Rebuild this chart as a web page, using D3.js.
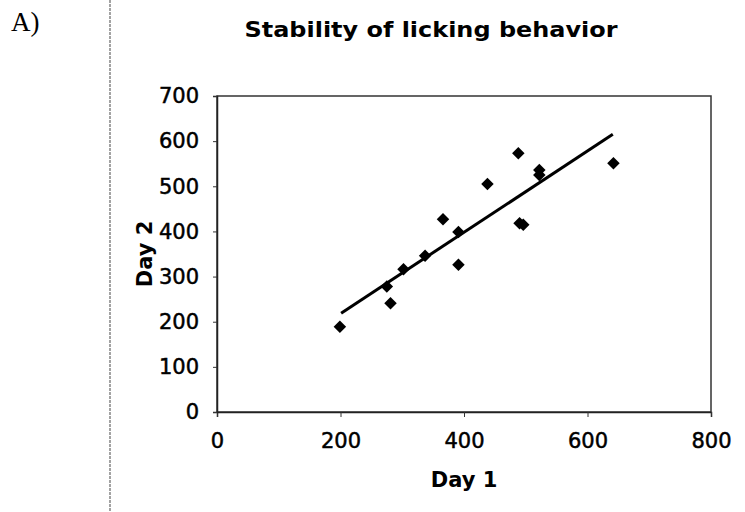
<!DOCTYPE html>
<html>
<head>
<meta charset="utf-8">
<script src="https://cdn.jsdelivr.net/npm/d3@7"></script>
<style>
  body { margin: 0; background: #fff; }
  text { font-family: "DejaVu Sans", Verdana, sans-serif; }
</style>
</head>
<body>
<div id="chart"></div>
<script>
'use strict'

// values
const day1 = [199, 275, 281, 302, 337, 366, 391, 391, 438, 488, 490, 496, 522, 522, 642]
const day2 = [189, 278, 241, 316, 346, 427, 399, 326, 505, 573, 418, 415, 536, 525, 551]
// trend line end points
const trendX = [201, 641]
const trendY = [219, 615]
const xTicks = [0, 200, 400, 600, 800]
const yTicks = [0, 100, 200, 300, 400, 500, 600, 700]

const width = 745
const height = 512
const margin = { top: 96, right: 34, bottom: 100, left: 217 }

const svg = d3.select('#chart')
  .append('svg')
    .attr('width', width)
    .attr('height', height)

// left page divider
svg.append('line')
  .attr('x1', 110).attr('x2', 110)
  .attr('y1', 0).attr('y2', height)
  .attr('stroke', '#666')
  .attr('stroke-width', 1.2)
  .attr('stroke-dasharray', '3,1')

svg.append('text')
  .attr('x', 11).attr('y', 31)
  .style('font-family', '"Liberation Serif", "Times New Roman", serif')
  .style('font-size', '27px')
  .text('A)')

const x = d3.scaleLinear()
  .domain([0, 800])
  .range([margin.left, width - margin.right])

const y = d3.scaleLinear()
  .domain([0, 700])
  .range([height - margin.bottom, margin.top])

// plot area box
svg.append('rect')
  .attr('x', x(0)).attr('y', y(700))
  .attr('width', x(800) - x(0))
  .attr('height', y(0) - y(700))
  .attr('fill', 'none')
  .attr('stroke', '#333')
  .attr('stroke-width', 1.5)

const xAxis = svg.append('g')
  .attr('transform', `translate(0, ${y(0)})`)
  .call(d3.axisBottom(x).tickValues(xTicks).tickSize(5).tickPadding(16))

const yAxis = svg.append('g')
  .attr('transform', `translate(${x(0)}, 0)`)
  .call(d3.axisLeft(y).tickValues(yTicks).tickSize(4).tickPadding(14))

;[xAxis, yAxis].forEach(g => {
  g.select('.domain').attr('stroke', '#222').attr('stroke-width', 1.5)
  g.selectAll('.tick line').attr('stroke', '#333')
  g.selectAll('.tick text')
    .style('font-size', '21px')
    .style('font-family', '"DejaVu Sans", Verdana, sans-serif')
    .attr('fill', '#000')
    .attr('stroke', '#000')
    .attr('stroke-width', 0.5)
})

// trend line
svg.append('path')
  .datum(d3.zip(trendX, trendY))
  .attr('fill', 'none')
  .attr('stroke', '#000')
  .attr('stroke-width', 3)
  .attr('d', d3.line().x(d => x(d[0])).y(d => y(d[1])))

// diamond markers
const diamond = d3.symbol().type(d3.symbolSquare).size(78)
svg.append('g')
  .selectAll('path')
  .data(d3.zip(day1, day2))
  .join('path')
    .attr('transform', d => `translate(${x(d[0])}, ${y(d[1])}) rotate(45)`)
    .attr('d', diamond)
    .attr('fill', '#000')

svg.append('text')
  .attr('x', 431).attr('y', 37)
  .attr('text-anchor', 'middle')
  .attr('textLength', 373)
  .attr('lengthAdjust', 'spacingAndGlyphs')
  .style('font-weight', 'bold')
  .style('font-size', '22px')
  .text('Stability of licking behavior')

svg.append('text')
  .attr('x', x(400)).attr('y', 487)
  .attr('text-anchor', 'middle')
  .style('font-weight', 'bold')
  .style('font-size', '21px')
  .text('Day 1')

svg.append('text')
  .attr('transform', `translate(152, ${y(350)}) rotate(-90)`)
  .attr('text-anchor', 'middle')
  .style('font-weight', 'bold')
  .style('font-size', '21px')
  .text('Day 2')
</script>
</body>
</html>
